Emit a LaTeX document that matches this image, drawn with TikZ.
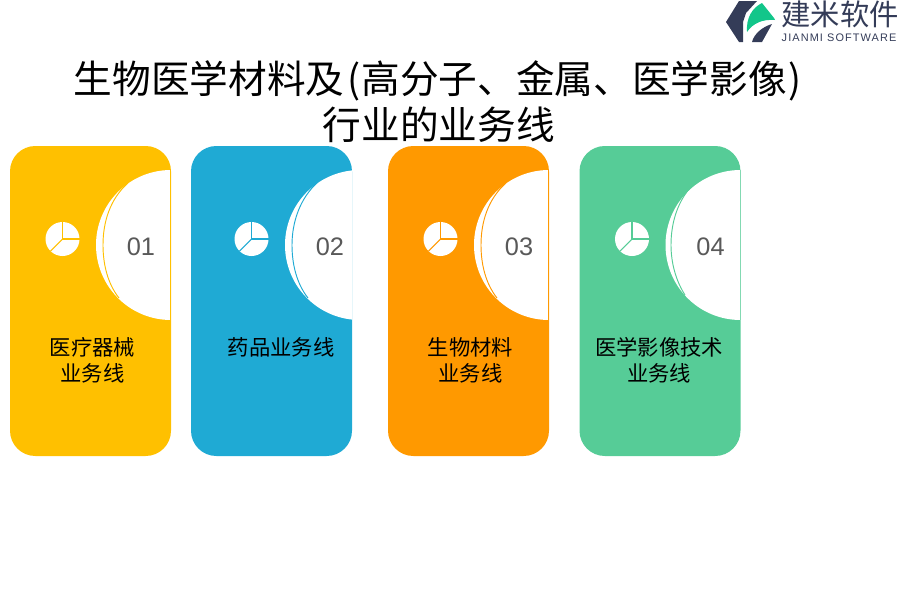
\documentclass[tikz,border=0pt]{standalone}
\usepackage{xcolor}
\usepackage{fontspec}
\setmainfont{Liberation Sans}
\newfontfamily\cjk{Noto Sans CJK SC}
\definecolor{cardyellow}{HTML}{FFC000}
\definecolor{cardblue}{HTML}{1FAAD4}
\definecolor{cardorange}{HTML}{FF9900}
\definecolor{cardgreen}{HTML}{56CC97}
\definecolor{logodark}{HTML}{343C58}
\definecolor{logogreen}{HTML}{12C68A}
\definecolor{numgrey}{HTML}{595959}
\tikzset{
  titletext/.style={font=\cjk\fontsize{29pt}{34.5pt}\selectfont, align=center, text=black, inner sep=0pt},
  cardtext/.style={font=\cjk\fontsize{16pt}{19.5pt}\selectfont, align=center, text=black, inner sep=0pt},
  numtext/.style={font=\fontsize{19pt}{20pt}\selectfont, text=numgrey, inner sep=0pt},
}
% left, shift of disc and icon, colour, number, label x, label text
\newcommand{\buscard}[6]{
  \fill [#3, rounded corners=19pt] (#1,146) rectangle (#1+161,456);
  \begin{scope}
    \clip (#1,146) rectangle (#1+161,456);
    \fill [white] (#1+161+#2,245) circle (75);
    \draw [#3, line width=0.7pt] (#1+160.5+#2,170) -- (#1+160.5+#2,320);
  \end{scope}
  % pie icon
  \fill [white] (#1+52.5+#2,239) circle (17);
  \draw [#3, thick] (#1+52.5+#2,222) -- (#1+52.5+#2,239) -- (#1+69.5+#2,239);
  \draw [#3, thick] (#1+52.5+#2,239) -- (#1+40.5+#2,251);
  \node [numtext] (num#4) at (#1+131+#2,246.5) {0#4};
  \node [cardtext, anchor=north] (label#4) at (#5,337) {#6};
}
\begin{document}
\begin{tikzpicture}[x=0.75pt,y=-0.75pt]
\useasboundingbox (0,0) rectangle (900,600);

\node [titletext] (title) at (437.5,102) {生物医学材料及\hspace{2pt}(\hspace{1pt}高分子、金属、医学影像\hspace{1pt})\hspace{2pt}\\\hspace{2pt}行业的业务线};

\buscard{10}{0}{cardyellow}{1}{92.5}{医疗器械\\业务线}
\draw [cardyellow, line width=0.7pt] (128,183) .. controls (110,199) and (103,222) .. (103,245) .. controls (103,265) and (108,284) .. (119,298);

\buscard{191}{8}{cardblue}{2}{281}{药品业务线}
\draw [cardblue, line width=0.7pt] (318,182) .. controls (300,198) and (292,222) .. (292,245) .. controls (292,265) and (297,284) .. (308,298);

\buscard{388}{0}{cardorange}{3}{470.5}{生物材料\\业务线}
\draw [cardorange, line width=0.7pt] (506,183) .. controls (488,199) and (481,222) .. (481,245) .. controls (481,265) and (486,284) .. (497,298);

\buscard{579.5}{0}{cardgreen}{4}{659}{医学影像技术\\业务线}
\draw [cardgreen, line width=0.7pt] (690,188) .. controls (677,203) and (671,224) .. (671,245) .. controls (671,263) and (676,281) .. (685,295);

% logo
\fill [logodark] (726,22) -- (739,1) -- (757,1) -- (746,13) -- (743,22) -- (743,42) -- (739,42) -- cycle;
\fill [logogreen] (747,32) .. controls (746,18) and (752,8) .. (762,3) -- (774,18) -- (775,20) .. controls (763,19) and (753,23) .. (747,32) -- cycle;
\fill [logodark] (752,42) .. controls (754,34) and (762,27) .. (772,24) -- (762,42) -- cycle;
\node [font=\cjk\fontsize{22pt}{24pt}\selectfont, text=logodark, inner sep=0pt] (logoname) at (840,14) {建米软件};
\node [font=\fontsize{8.2pt}{10pt}\selectfont\addfontfeature{LetterSpace=10}, text=logodark, inner sep=0pt] (logosub) at (839,38) {JIANMI SOFTWARE};

\end{tikzpicture}
\end{document}
